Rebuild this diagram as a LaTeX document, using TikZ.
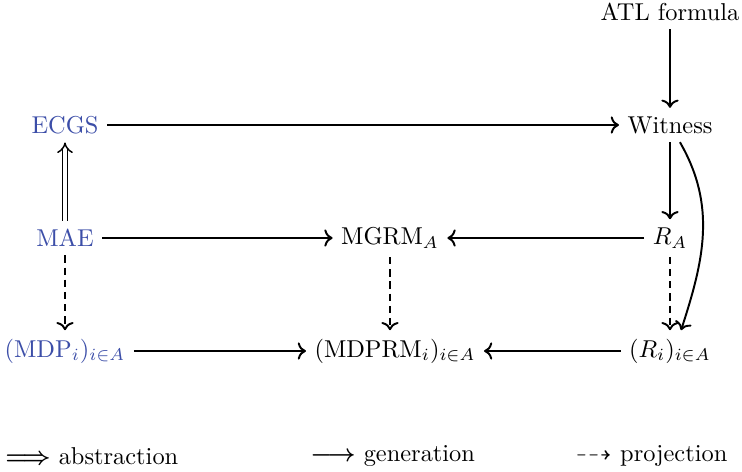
\documentclass[tikz,border=0pt]{standalone}
\usepackage{amssymb}
\usetikzlibrary{arrows.meta}
\definecolor{nodeblue}{RGB}{60,78,168}
\tikzset{
  lbl/.style={inner sep=3.33pt},
  blue lbl/.style={lbl, text=nodeblue},
  gen/.style={thick, ->},
  proj/.style={thick, ->, dash pattern=on 3pt off 2pt},
  abst/.style={double, double distance=1.6pt, semithick, -{Implies[length=3pt]}},
  legend/.style={inner sep=0pt, anchor=west}
}
\begin{document}
\begin{tikzpicture}[x=0.41pt, y=-0.41pt]
\useasboundingbox (0,0) rectangle (742,472);
\node[lbl] (atl) at (670,12) {ATL formula};
\node[lbl] (w) at (670,125) {Witness};
\node[blue lbl] (ecgs) at (65,125) {ECGS};
\node[blue lbl] (mae) at (65,238) {MAE};
\node[lbl] (mgrm) at (390,238) {MGRM$_A$};
\node[lbl] (ra) at (670,238) {$R_A$};
\node[blue lbl] (mdp) at (65,351) {$(\mathrm{MDP}_i)_{i\in A}$};
\node[lbl] (mdprm) at (395,351) {$(\mathrm{MDPRM}_i)_{i\in A}$};
\node[lbl] (ri) at (670,351) {$(R_i)_{i\in A}$};

\draw[gen] (atl) -- (w);
\draw[gen] (ecgs) -- (w);
\draw[gen] (w) -- (ra);
\draw[gen] (w.-60) to[out=-60, in=72] (ri.62);
\draw[abst] (mae) -- (ecgs);
\draw[gen] (mae) -- (mgrm);
\draw[gen] (ra) -- (mgrm);
\draw[proj] (mae) -- (mdp);
\draw[proj] (mgrm) -- (mgrm |- mdprm.north);
\draw[proj] (ra) -- (ri);
\draw[gen] (mdp) -- (mdprm);
\draw[gen] (ri) -- (mdprm);

\node[legend] (l1) at (5,456) {{\boldmath$\Longrightarrow$} abstraction};
\node[legend] (l2) at (310,456) {{\boldmath$\longrightarrow$} generation};
\node[legend] (l3) at (575,456) {$\dashrightarrow$ projection};
\end{tikzpicture}
\end{document}
